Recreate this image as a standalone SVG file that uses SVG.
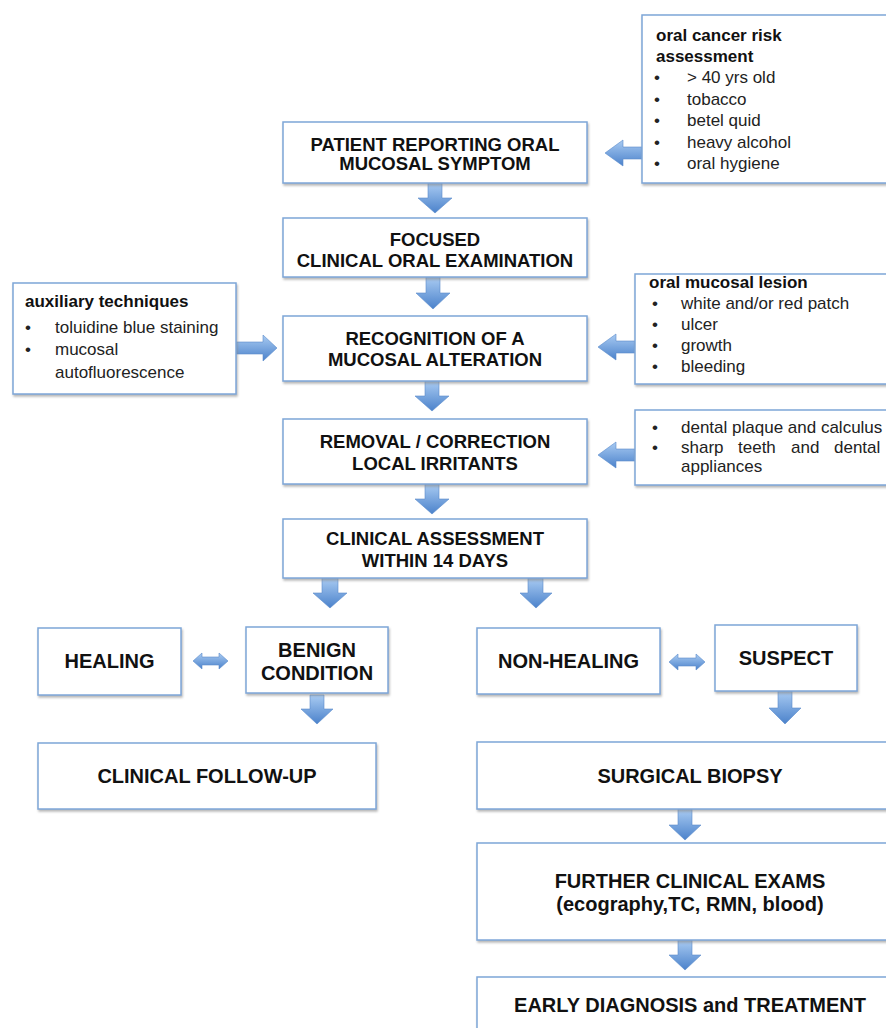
<svg xmlns="http://www.w3.org/2000/svg" width="886" height="1028" viewBox="0 0 886 1028">
<style>
.box{fill:#fff;stroke:#7ea6d8;stroke-width:1.5;filter:url(#sh)}
.t{font-family:"Liberation Sans",Arial,sans-serif;font-weight:bold;fill:#111;text-anchor:middle}
.s{font-family:"Liberation Sans",Arial,sans-serif;font-size:17px;fill:#222}
.sb{font-family:"Liberation Sans",Arial,sans-serif;font-size:17px;font-weight:bold;fill:#111}
.arr{fill:url(#ag);stroke:#5b8bcb;stroke-width:0.6}
.f19{font-size:18.5px}
.f20{font-size:20px}
</style>
<defs>
<filter id="sh" x="-5%" y="-5%" width="115%" height="125%">
<feDropShadow dx="1" dy="2" stdDeviation="1" flood-color="#888" flood-opacity="0.6"/>
</filter>
<linearGradient id="ag" x1="0" y1="0" x2="0" y2="1">
<stop offset="0" stop-color="#a9cbf2"/>
<stop offset="1" stop-color="#4b82cb"/>
</linearGradient>
</defs>
<rect width="886" height="1028" fill="#fff"/>

<g id="connectors">
<path class="arr" d="M428,183 L442,183 L442,198 L452,198 L435,213 L418,198 L428,198 Z"/>
<path class="arr" d="M426,277 L440,277 L440,293 L450,293 L433,309 L416,293 L426,293 Z"/>
<path class="arr" d="M425,381 L439,381 L439,396 L449,396 L432,411 L415,396 L425,396 Z"/>
<path class="arr" d="M425,484 L439,484 L439,499 L449,499 L432,514 L415,499 L425,499 Z"/>
<path class="arr" d="M322,578 L338,578 L338,593 L347,593 L330,608 L313,593 L322,593 Z"/>
<path class="arr" d="M528,578 L543,578 L543,593 L552,593 L536,608 L520,593 L528,593 Z"/>
<path class="arr" d="M310,695 L324,695 L324,709 L333,709 L317,724 L301,709 L310,709 Z"/>
<path class="arr" d="M778,691 L792,691 L792,708 L801,708 L785,724 L769,708 L778,708 Z"/>
<path class="arr" d="M678,809 L692,809 L692,825 L701,825 L685,840 L669,825 L678,825 Z"/>
<path class="arr" d="M678,940 L692,940 L692,955 L701,955 L685,970 L669,955 L678,955 Z"/>
<path class="arr" d="M642,147 L642,159 L623,159 L623,166 L605,153 L623,140 L623,147 Z"/>
<path class="arr" d="M236,342 L236,354 L263,354 L263,361 L277,348 L263,335 L263,342 Z"/>
<path class="arr" d="M635,341 L635,353 L616,353 L616,360 L598,347 L616,334 L616,341 Z"/>
<path class="arr" d="M635,449 L635,461 L616,461 L616,468 L598,455 L616,442 L616,449 Z"/>
<path class="arr" d="M193,661 L202,653 L202,657 L219,657 L219,653 L228,661 L219,669 L219,665 L202,665 L202,669 Z"/>
<path class="arr" d="M669,662 L678,654 L678,658 L696,658 L696,654 L705,662 L696,670 L696,666 L678,666 L678,670 Z"/>
</g>

<g id="risk">
<rect class="box" x="642" y="15" width="260" height="168"/>
<text class="sb" x="656" y="41">oral cancer risk</text>
<text class="sb" x="656" y="62">assessment</text>
<g class="s">
<text x="654" y="83">•</text><text x="687" y="83">&gt; 40 yrs old</text>
<text x="654" y="105">•</text><text x="687" y="105">tobacco</text>
<text x="654" y="126">•</text><text x="687" y="126">betel quid</text>
<text x="654" y="148">•</text><text x="687" y="148">heavy alcohol</text>
<text x="654" y="169">•</text><text x="687" y="169">oral hygiene</text>
</g>
</g>

<g id="patient">
<rect class="box" x="283" y="122" width="304" height="61"/>
<text class="t f19" x="435" y="151">PATIENT REPORTING ORAL</text>
<text class="t f19" x="435" y="170">MUCOSAL SYMPTOM</text>
</g>

<g id="focused">
<rect class="box" x="283" y="218" width="304" height="59"/>
<text class="t f19" x="435" y="246">FOCUSED</text>
<text class="t f19" x="435" y="267">CLINICAL ORAL EXAMINATION</text>
</g>

<g id="auxiliary">
<rect class="box" x="13" y="283" width="223" height="111"/>
<text class="sb" x="25" y="307">auxiliary techniques</text>
<g class="s">
<text x="25" y="333">•</text><text x="55" y="333">toluidine blue staining</text>
<text x="25" y="355">•</text><text x="55" y="355">mucosal</text>
<text x="55" y="378">autofluorescence</text>
</g>
</g>

<g id="recognition">
<rect class="box" x="283" y="316" width="304" height="65"/>
<text class="t f19" x="435" y="345">RECOGNITION OF A</text>
<text class="t f19" x="435" y="366">MUCOSAL ALTERATION</text>
</g>

<g id="lesion">
<rect class="box" x="635" y="274" width="270" height="110"/>
<text class="sb" x="649" y="288">oral mucosal lesion</text>
<g class="s">
<text x="652" y="309">•</text><text x="681" y="309">white and/or red patch</text>
<text x="652" y="330">•</text><text x="681" y="330">ulcer</text>
<text x="652" y="351">•</text><text x="681" y="351">growth</text>
<text x="652" y="372">•</text><text x="681" y="372">bleeding</text>
</g>
</g>

<g id="removal">
<rect class="box" x="283" y="419" width="304" height="65"/>
<text class="t f19" x="435" y="448">REMOVAL / CORRECTION</text>
<text class="t f19" x="435" y="470">LOCAL IRRITANTS</text>
</g>

<g id="irritants">
<rect class="box" x="635" y="410" width="270" height="75"/>
<g class="s">
<text x="652" y="433">•</text><text x="681" y="433">dental plaque and calculus</text>
<text x="652" y="453">•</text><text y="453"><tspan x="681">sharp</tspan><tspan x="738">teeth</tspan><tspan x="791">and</tspan><tspan x="834">dental</tspan></text>
<text x="681" y="472">appliances</text>
</g>
</g>

<g id="assessment">
<rect class="box" x="283" y="519" width="304" height="59"/>
<text class="t f19" x="435" y="545">CLINICAL ASSESSMENT</text>
<text class="t f19" x="435" y="567">WITHIN 14 DAYS</text>
</g>

<g id="healing">
<rect class="box" x="38" y="628" width="143" height="67"/>
<text class="t f20" x="109.5" y="668">HEALING</text>
</g>

<g id="benign">
<rect class="box" x="246" y="627" width="142" height="66"/>
<text class="t f20" x="317" y="657">BENIGN</text>
<text class="t f20" x="317" y="680">CONDITION</text>
</g>

<g id="followup">
<rect class="box" x="38" y="743" width="338" height="66"/>
<text class="t f20" x="207" y="783">CLINICAL FOLLOW-UP</text>
</g>

<g id="nonhealing">
<rect class="box" x="477" y="628" width="183" height="66"/>
<text class="t f20" x="568.5" y="668">NON-HEALING</text>
</g>

<g id="suspect">
<rect class="box" x="715" y="625" width="142" height="66"/>
<text class="t f20" x="786" y="665">SUSPECT</text>
</g>

<g id="biopsy">
<rect class="box" x="477" y="742" width="426" height="67"/>
<text class="t f20" x="690" y="783">SURGICAL BIOPSY</text>
</g>

<g id="further">
<rect class="box" x="477" y="843" width="426" height="97"/>
<text class="t f20" x="690" y="888">FURTHER CLINICAL EXAMS</text>
<text class="t f20" x="690" y="911">(ecography,TC, RMN, blood)</text>
</g>

<g id="early">
<rect class="box" x="477" y="977" width="426" height="70"/>
<text class="t f20" x="690" y="1012">EARLY DIAGNOSIS and TREATMENT</text>
</g>
</svg>
